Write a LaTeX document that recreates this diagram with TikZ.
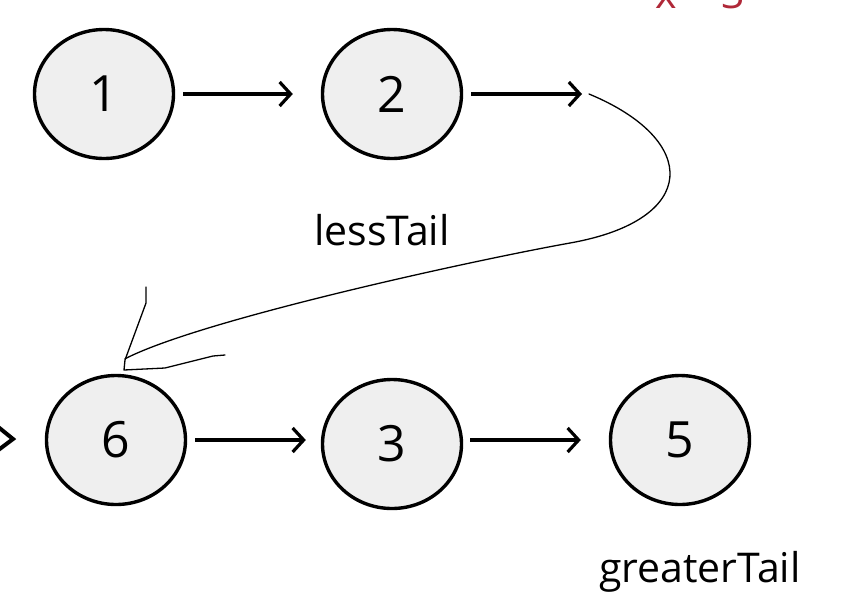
\documentclass[tikz,border=0pt]{standalone}
\usepackage{fontspec}
\setmainfont{Open Sans}
\usetikzlibrary{shapes.geometric,arrows.meta}

\definecolor{nodefill}{RGB}{239,239,239}
\definecolor{notered}{RGB}{176,40,56}

\tikzset{
    listnode/.style={ellipse, draw, line width=3.4pt, fill=nodefill, minimum width=139pt, minimum height=129pt, inner sep=0pt, font=\fontsize{50}{56}\selectfont},
    nextarrow/.style={line width=3.2pt, -{Straight Barb[length=11pt,width=24pt,line width=3.2pt]}},
    tailtext/.style={font=\fontsize{41}{48}\selectfont},
    handline/.style={line width=1.3pt, line join=round, line cap=round}
}

\begin{document}
\begin{tikzpicture}[x=1pt,y=-1pt]
        \clip (0,0) rectangle (867,595);
        \fill[white] (0,0) rectangle (867,595);

        % List nodes
        \node[listnode] (n1) at (104,94) {1};
        \node[listnode] (n2) at (392,94) {2};
        \node[listnode] (n6) at (116,440) {6};
        \node[listnode] (n3) at (392,444) {3};
        \node[listnode] (n5) at (680,440) {5};
        \coordinate (nil) at (582,94);

        % Next pointers
        \draw[nextarrow, shorten <=8pt, shorten >=28pt] (n1.east) -- (n2.west);
        \draw[nextarrow, shorten <=8pt] (n2.east) -- (nil);
        \draw[nextarrow, shorten <=8pt, shorten >=15pt] (n6.east) -- (n3.west |- n6.east);
        \draw[nextarrow, shorten <=7pt, shorten >=28pt] (n3.east |- n5.west) -- (n5.west);

        % Cut off pointer on the left
        \draw[line width=4pt] (-3,426) -- (13,439) -- (-3,451);

        % Hand drawn link
        \draw[handline] ([xshift=7pt]nil) .. controls (700,140) and (700,220) .. (570,243)
            .. controls (470,261) and (200,320) .. ([shift={(9pt,15pt)}]n6.north);
        \draw[handline] (146,287) -- (146,303) -- (125,360) -- (124,370) -- (165,368) -- (213,356) -- (225,355);

        % Labels
        \node[tailtext] (less) at (382,230) {lessTail};
        \node[tailtext] (greater) at (700,572) {greaterTail};
        \node[tailtext, text=notered, anchor=base] (xval) at (700,8) {x = 3};

    \end{tikzpicture}
\end{document}
